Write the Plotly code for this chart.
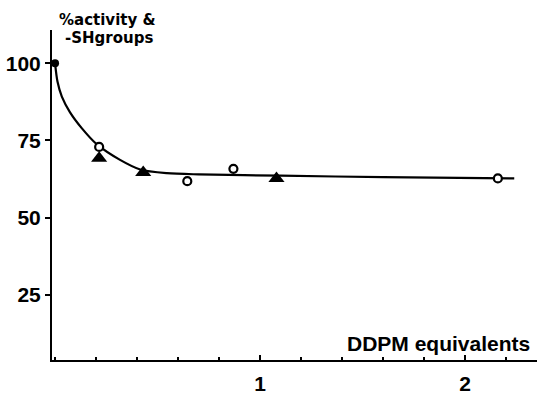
import plotly.graph_objects as go

# Fitted curve
curve_x = [0, 0.012, 0.033, 0.073, 0.13, 0.203, 0.317, 0.415, 0.545, 0.7, 1.1, 1.6, 2.24]
curve_y = [100, 94, 89.2, 84.1, 79.0, 73.8, 68.7, 65.6, 64.4, 64.0, 63.6, 63.1, 62.7]

# % activity (open circles)
circle_x = [0.215, 0.645, 0.87, 2.16]
circle_y = [72.9, 61.8, 65.8, 62.7]

# -SH groups (filled triangles)
tri_x = [0.215, 0.43, 1.08]
tri_y = [69.2, 64.6, 62.7]

# starting point
start_x = [0]
start_y = [100]

y_ticks = [25, 50, 75, 100]
x_ticks = [1, 2]

fig = go.Figure()
fig.add_trace(go.Scatter(x=curve_x, y=curve_y, mode="lines",
                         line=dict(color="black", width=2.2, shape="spline", smoothing=0.8),
                         hoverinfo="skip"))
fig.add_trace(go.Scatter(x=tri_x, y=tri_y, mode="markers",
                         marker=dict(symbol="triangle-up", size=14, color="black",
                                     line=dict(width=0))))
fig.add_trace(go.Scatter(x=circle_x, y=circle_y, mode="markers",
                         marker=dict(symbol="circle", size=8, color="white",
                                     line=dict(color="black", width=2.2))))
fig.add_trace(go.Scatter(x=start_x, y=start_y, mode="markers",
                         marker=dict(symbol="circle", size=8, color="black"),
                         cliponaxis=False))

fig.update_layout(
    width=539, height=397,
    margin=dict(l=52, r=2, t=30, b=20),
    paper_bgcolor="white", plot_bgcolor="white",
    showlegend=False,
    font=dict(family="Liberation Sans", color="black"),
)
fig.update_xaxes(
    range=[-0.015, 2.351], showgrid=False, zeroline=False,
    showline=True, linecolor="black", linewidth=2,
    tickmode="array", tickvals=x_ticks, ticktext=[str(v) for v in x_ticks],
    ticks="inside", ticklen=5, tickwidth=2, tickcolor="black",
    tickfont=dict(family="Liberation Sans", size=21, weight="bold", color="black"),
    ticklabelstandoff=4,
    minor=dict(tickmode="linear", tick0=0, dtick=0.2, ticks="inside", ticklen=3,
               tickwidth=1.5, tickcolor="black", showgrid=False),
)
fig.update_yaxes(
    range=[3.85, 110.8], showgrid=False, zeroline=False,
    showline=True, linecolor="black", linewidth=2,
    tickmode="array", tickvals=y_ticks, ticktext=[str(v) for v in y_ticks],
    ticks="outside", ticklen=5, tickwidth=2, tickcolor="black",
    tickfont=dict(family="Liberation Sans", size=21, weight="bold", color="black"),
)

fig.add_annotation(xref="paper", yref="paper", x=(57 - 52) / 485, y=1 + (30 - 19) / 347,
                   text="%activity &", showarrow=False, xanchor="left", yanchor="middle",
                   font=dict(family="DejaVu Sans", size=15, weight="bold", color="black"))
fig.add_annotation(xref="paper", yref="paper", x=(63 - 52) / 485, y=1 + (30 - 38) / 347,
                   text="-SHgroups", showarrow=False, xanchor="left", yanchor="middle",
                   font=dict(family="DejaVu Sans", size=15, weight="bold", color="black"))
fig.add_annotation(xref="paper", yref="paper", x=(345 - 52) / 485, y=(377 - 360) / 347,
                   text="DDPM equivalents", showarrow=False, xanchor="left", yanchor="middle",
                   font=dict(family="Liberation Sans", size=21, weight="bold", color="black"))

fig.write_html("out.html")
